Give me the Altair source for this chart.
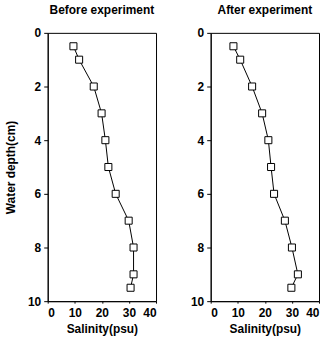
import altair as alt
import pandas as pd

depth = [0.5, 1, 2, 3, 4, 5, 6, 7, 8, 9, 9.5]
before = [9.5, 11.6, 17.0, 19.9, 21.3, 22.4, 25.1, 29.9, 31.7, 31.7, 30.6]
after = [8.4, 10.9, 15.3, 19.0, 21.3, 22.3, 23.4, 27.4, 30.0, 32.2, 29.8]

df_b = pd.DataFrame({"depth": depth, "sal": before, "order": range(len(depth))})
df_a = pd.DataFrame({"depth": depth, "sal": after, "order": range(len(depth))})

FONT = "Liberation Sans"


def panel(df, title, show_ytitle):
    x = alt.X("sal:Q", scale=alt.Scale(domain=[0, 40], nice=False),
              axis=alt.Axis(values=[0, 10, 20, 30, 40], title="Salinity(psu)",
                            tickSize=2, labelPadding=4, grid=False,
                            titlePadding=6))
    y = alt.Y("depth:Q", scale=alt.Scale(domain=[0, 10], reverse=True, nice=False),
              axis=alt.Axis(values=[0, 2, 4, 6, 8, 10],
                            title="Water depth(cm)" if show_ytitle else None,
                            tickSize=4, labelPadding=3, grid=False,
                            titlePadding=10))
    base = alt.Chart(df)
    line = base.mark_line(color="black", strokeWidth=1).encode(x=x, y=y, order="order:Q")
    pts = base.mark_point(shape="square", filled=False, fill="white", stroke="black",
                          strokeWidth=1, size=50, opacity=1).encode(x=x, y=y)
    return (line + pts).properties(width=109, height=270,
                                  title=alt.TitleParams(title, fontSize=12, font=FONT,
                                                        fontWeight="bold", offset=10))


chart = alt.hconcat(panel(df_b, "Before experiment", True),
                    panel(df_a, "After experiment", False),
                    spacing=33).properties(
    padding={"left": 4, "top": 2, "right": 0, "bottom": 0}
).configure_view(stroke="black", strokeWidth=1).configure_axis(
    labelFont=FONT, titleFont=FONT, labelFontSize=12, titleFontSize=12,
    labelFontWeight="bold", titleFontWeight="bold", labelColor="black",
    titleColor="black", domainColor="black", tickColor="black"
)

chart.save("out.html", embed_options={"renderer": "svg", "actions": False})
